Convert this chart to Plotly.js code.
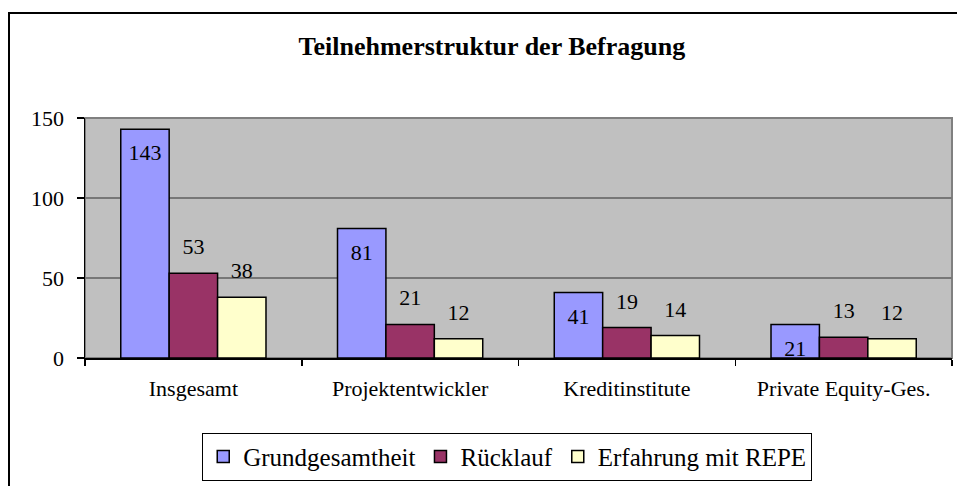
<!DOCTYPE html>
<html>
<head>
<meta charset="utf-8">
<script src="https://cdn.plot.ly/plotly-3.0.1.min.js"></script>
<style>
  html, body { margin: 0; padding: 0; background: #fff; overflow: hidden; }
  #chart { position: absolute; left: 0; top: 0; width: 957px; height: 486px; }
  #frame { position: absolute; left: 8px; top: 12px; width: 1200px; height: 800px;
           border-left: 2px solid #000; border-top: 2px solid #000; pointer-events: none; }
</style>
</head>
<body>
<div id="chart"></div>
<div id="frame"></div>
<script>
const categories = ['Insgesamt', 'Projektentwickler', 'Kreditinstitute', 'Private Equity-Ges.'];
const seriesNames = ['Grundgesamtheit', 'Rücklauf', 'Erfahrung mit REPE'];
const grundgesamtheit = [143, 81, 41, 21];
const ruecklauf = [53, 21, 19, 13];
const erfahrung = [38, 12, 14, 12];
const yTicks = [0, 50, 100, 150];

const seriesValues = [grundgesamtheit, ruecklauf, erfahrung];
const colors = ['#9999FF', '#993366', '#FFFFCC'];
const labelPos = ['bottom center', 'top center', 'top center'];
const labelSize = [22, 20, 20];
const FONT = 'Liberation Serif';

const traces = [];
seriesValues.forEach((vals, i) => {
  traces.push({
    type: 'bar', x: categories, y: vals, name: seriesNames[i],
    marker: { color: colors[i], line: { color: '#000', width: 1.5 } },
    hoverinfo: 'skip'
  });
});
seriesValues.forEach((vals, i) => {
  traces.push({
    type: 'scatter', mode: 'markers+text', x: categories, y: vals,
    text: vals.map(String), textposition: labelPos[i],
    textfont: { family: FONT, size: 22, color: '#000' },
    marker: { size: labelSize[i], opacity: 0 },
    showlegend: false, hoverinfo: 'skip', cliponaxis: false
  });
});

const layout = {
  width: 957, height: 486,
  margin: { l: 85, r: 5, t: 118, b: 124 },
  paper_bgcolor: '#ffffff', plot_bgcolor: '#C0C0C0',
  font: { family: FONT, size: 22, color: '#000' },
  title: {
    text: '<b>Teilnehmerstruktur der Befragung</b>',
    font: { family: FONT, size: 26, color: '#000' },
    x: 0.514, xref: 'container', xanchor: 'center',
    y: 0.905, yref: 'container', yanchor: 'middle'
  },
  barmode: 'group', bargap: 0.33, bargroupgap: 0,
  scattermode: 'group', scattergap: 0.33,
  xaxis: {
    type: 'category', showline: true, linecolor: '#000', linewidth: 1.5,
    ticks: 'outside', tickson: 'boundaries', ticklen: 6, tickcolor: '#000', tickwidth: 1.5,
    ticklabelstandoff: 10, showgrid: false, zeroline: false,
    tickfont: { family: FONT, size: 22, color: '#000' }, fixedrange: true
  },
  yaxis: {
    range: [0, 150], tickvals: yTicks, showline: true, linecolor: '#000', linewidth: 1.5,
    ticks: 'outside', ticklen: 7, tickcolor: '#000', tickwidth: 1.5,
    ticklabelstandoff: 8, showgrid: true, gridcolor: '#777777', gridwidth: 1.5,
    zeroline: false, tickfont: { family: FONT, size: 22, color: '#000' }, fixedrange: true
  },
  shapes: [{
    type: 'rect', xref: 'paper', yref: 'paper', x0: 0, x1: 1, y0: 0, y1: 1,
    line: { color: '#808080', width: 2 }, fillcolor: 'rgba(0,0,0,0)', layer: 'below'
  }],
  legend: {
    orientation: 'h', x: 0.487, xanchor: 'center', y: -0.311, yanchor: 'top',
    bordercolor: '#000', borderwidth: 1, bgcolor: '#fff',
    font: { family: FONT, size: 25, color: '#000' },
    itemwidth: 30, tracegroupgap: 0
  },
  showlegend: true
};

Plotly.newPlot('chart', traces, layout, { displayModeBar: false, staticPlot: true });
</script>
</body>
</html>
